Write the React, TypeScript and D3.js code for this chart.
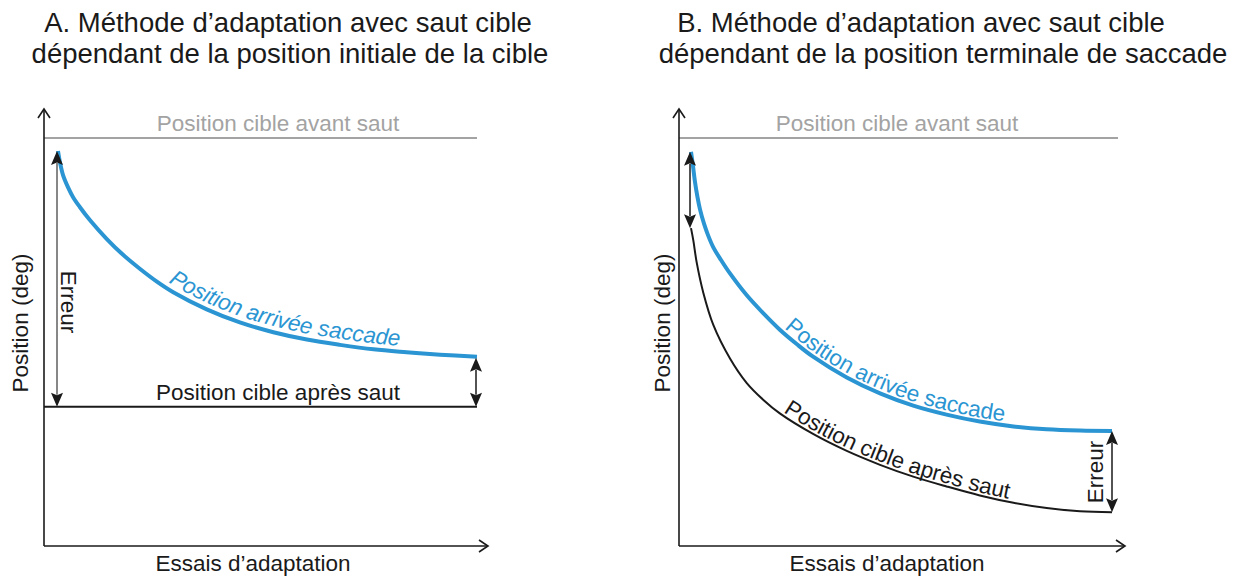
import React from "react";
import * as d3 from "d3";

// ---------- data ----------
// Panel A : saccade landing position over adaptation trials (% of session)
const trialsA = [0, 0.5, 1.2, 2.4, 3.6, 5.2, 7.6, 11.6, 15.6, 19.6, 23.6, 27.5, 35.5, 43.4, 51.4, 59.4, 67.3, 75.3, 83.2, 91.2, 100];
const saccadeA = [9.68, 9.39, 9.09, 8.79, 8.55, 8.31, 7.99, 7.53, 7.13, 6.79, 6.48, 6.22, 5.8, 5.48, 5.24, 5.06, 4.93, 4.82, 4.75, 4.69, 4.64];
const targetBefore = 10;
const targetAfterA = 3.41;

// Panel B
const trialsB = [0, 0.48, 0.95, 1.54, 2.14, 3.09, 4.04, 5.3, 7.13, 9.26, 13.2, 17.2, 21.1, 25.1, 29.0, 37.0, 44.9, 52.8, 60.7, 68.6, 76.6, 84.5, 92.4, 100];
const saccadeB = [9.66, 9.31, 8.92, 8.55, 8.25, 7.9, 7.62, 7.32, 7.01, 6.68, 6.15, 5.7, 5.3, 4.95, 4.64, 4.13, 3.74, 3.44, 3.22, 3.05, 2.93, 2.86, 2.83, 2.82];
const trialsBTarget = [0, 0.55, 1.35, 2.92, 5.3, 9.3, 13.2, 17.2, 21.1, 29.1, 37, 44.9, 52.8, 60.7, 68.6, 76.6, 84.5, 92.4, 100];
const targetB = [7.79, 7.49, 6.95, 6.21, 5.42, 4.59, 4.0, 3.58, 3.25, 2.74, 2.33, 1.99, 1.7, 1.46, 1.24, 1.06, 0.93, 0.85, 0.83];

// Texts
const titleA = ["A. Méthode d’adaptation avec saut cible", "dépendant de la position initiale de la cible"];
const titleB = ["B. Méthode d’adaptation avec saut cible", "dépendant de la position terminale de saccade"];
const yLabel = "Position (deg)";
const xLabel = "Essais d’adaptation";
const lblBefore = "Position cible avant saut";
const lblAfter = "Position cible après saut";
const lblSaccade = "Position arrivée saccade";
const lblError = "Erreur";

// ---------- styles ----------
const FONT = "'Liberation Sans', Arial, Helvetica, sans-serif";
const BLUE = "#2a95d2";
const GREY = "#a3a3a3";
const INK = "#1a1a1a";

const yScale = d3.scaleLinear().domain([0, 10]).range([546, 138]);
const xScaleA = d3.scaleLinear().domain([0, 100]).range([58, 477]);
const xScaleB = d3.scaleLinear().domain([0, 100]).range([691, 1112]);

type P = [number, number];
const zip = (xs: number[], ys: number[]): P[] => xs.map((x, i) => [x, ys[i]]);

function lineGen(xs: d3.ScaleLinear<number, number>) {
  return d3
    .line<P>()
    .x((d) => xs(d[0]))
    .y((d) => yScale(d[1]))
    .curve(d3.curveCatmullRom.alpha(0.5));
}

function Axes({ x0, xEnd }: { x0: number; xEnd: number }) {
  const yb = 546;
  const yt = 109;
  return (
    <g stroke={INK} strokeWidth={1.6} fill="none">
      <line x1={x0} y1={yb} x2={x0} y2={yt} />
      <polyline points={`${x0 - 6},${yt + 9} ${x0},${yt} ${x0 + 6},${yt + 9}`} />
      <line x1={x0} y1={yb} x2={xEnd} y2={yb} />
      <polyline points={`${xEnd - 9},${yb - 6} ${xEnd},${yb} ${xEnd - 9},${yb + 6}`} />
    </g>
  );
}

function DoubleArrow({ x, y1, y2, color, width }: { x: number; y1: number; y2: number; color: string; width: number }) {
  const top = Math.min(y1, y2);
  const bot = Math.max(y1, y2);
  const h = 14;
  const w = 6;
  return (
    <g>
      <line x1={x} y1={top + h - 2} x2={x} y2={bot - h + 2} stroke={color} strokeWidth={width} />
      <path d={`M${x},${top} L${x - w},${top + h} L${x},${top + h - 2.5} L${x + w},${top + h} Z`} fill={INK} />
      <path d={`M${x},${bot} L${x - w},${bot - h} L${x},${bot - h + 2.5} L${x + w},${bot - h} Z`} fill={INK} />
    </g>
  );
}

export default function App() {
  const lineA = lineGen(xScaleA);
  const lineB = lineGen(xScaleB);

  const satA = zip(trialsA, saccadeA);
  const satB = zip(trialsB, saccadeB);
  const tgtB = zip(trialsBTarget, targetB);

  const textPathA = lineA(satA.filter((d) => d[0] >= 23))!;
  const textPathBs = lineB(satB.filter((d) => d[0] >= 21))!;
  const textPathBt = lineB(tgtB.filter((d) => d[0] >= 21))!;

  const titleStyle = { fontFamily: FONT, fontSize: 27.5, fill: INK } as const;
  const txt = { fontFamily: FONT, fontSize: 22.5 } as const;

  return (
    <svg
      width={1236}
      height={581}
      style={{ position: "absolute", left: 0, top: 0, background: "#fff" }}
    >
      <defs>
        <path id="tpA" d={textPathA} />
        <path id="tpBs" d={textPathBs} />
        <path id="tpBt" d={textPathBt} />
      </defs>

      {/* Titles */}
      <text x={288} y={32} textAnchor="middle" style={titleStyle}>{titleA[0]}</text>
      <text x={290} y={63} textAnchor="middle" style={titleStyle}>{titleA[1]}</text>
      <text x={921} y={32} textAnchor="middle" style={titleStyle}>{titleB[0]}</text>
      <text x={943} y={63} textAnchor="middle" style={titleStyle}>{titleB[1]}</text>

      {/* ---------- Panel A ---------- */}
      <line x1={44} x2={xScaleA(100)} y1={yScale(targetBefore)} y2={yScale(targetBefore)} stroke={GREY} strokeWidth={2} />
      <text x={278} y={131} textAnchor="middle" fill={GREY} style={txt}>{lblBefore}</text>

      <line x1={44} x2={xScaleA(100)} y1={yScale(targetAfterA)} y2={yScale(targetAfterA)} stroke={INK} strokeWidth={2} />
      <text x={278} y={400} textAnchor="middle" fill={INK} style={txt}>{lblAfter}</text>

      <path d={lineA(satA)!} fill="none" stroke={BLUE} strokeWidth={4} />
      <text fill={BLUE} style={{ ...txt, fontStyle: "italic" }} dy={-6}>
        <textPath href="#tpA" startOffset={10}>{lblSaccade}</textPath>
      </text>

      <DoubleArrow x={xScaleA(0) - 1} y1={yScale(saccadeA[0])} y2={yScale(targetAfterA)} color="#7a7a7a" width={1.8} />
      <text transform={`translate(61,302) rotate(90)`} textAnchor="middle" fill={INK} style={txt}>{lblError}</text>

      <DoubleArrow x={xScaleA(100) - 1} y1={yScale(saccadeA[saccadeA.length - 1]) + 1} y2={yScale(targetAfterA)} color={INK} width={1.5} />

      <Axes x0={44} xEnd={488} />
      <text transform="translate(28,323) rotate(-90)" textAnchor="middle" fill={INK} style={txt}>{yLabel}</text>
      <text x={253} y={571} textAnchor="middle" fill={INK} style={txt}>{xLabel}</text>

      {/* ---------- Panel B ---------- */}
      <line x1={679} x2={1118} y1={yScale(targetBefore)} y2={yScale(targetBefore)} stroke={GREY} strokeWidth={2} />
      <text x={897} y={131} textAnchor="middle" fill={GREY} style={txt}>{lblBefore}</text>

      <path d={lineB(tgtB)!} fill="none" stroke={INK} strokeWidth={2} />
      <text fill={INK} style={txt} dy={-3}>
        <textPath href="#tpBt" startOffset={2}>{lblAfter}</textPath>
      </text>

      <path d={lineB(satB)!} fill="none" stroke={BLUE} strokeWidth={4} />
      <text fill={BLUE} style={txt} dy={-4}>
        <textPath href="#tpBs" startOffset={2}>{lblSaccade}</textPath>
      </text>

      <DoubleArrow x={xScaleB(0) - 1} y1={yScale(saccadeB[0])} y2={yScale(targetB[0])} color={INK} width={1.5} />
      <DoubleArrow x={xScaleB(100)} y1={yScale(saccadeB[saccadeB.length - 1])} y2={yScale(targetB[targetB.length - 1])} color={INK} width={1.5} />
      <text transform="translate(1103,472) rotate(-90)" textAnchor="middle" fill={INK} style={txt}>{lblError}</text>

      <Axes x0={679} xEnd={1125} />
      <text transform="translate(670,323) rotate(-90)" textAnchor="middle" fill={INK} style={txt}>{yLabel}</text>
      <text x={887} y={571} textAnchor="middle" fill={INK} style={txt}>{xLabel}</text>
    </svg>
  );
}
